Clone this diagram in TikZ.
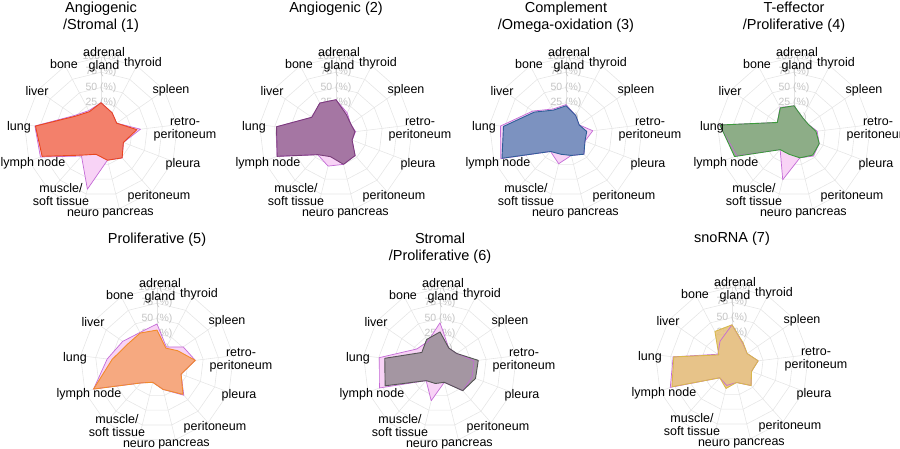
\documentclass[tikz,border=0pt]{standalone}
\usepackage{fontspec}
\setmainfont{Liberation Sans}
\usetikzlibrary{calc}

\definecolor{pinkfill}{HTML}{F8D3F6}
\definecolor{pinkline}{HTML}{C46BD6}
\definecolor{gridgray}{HTML}{E6E6E6}
\definecolor{ringgray}{HTML}{C4C4C4}
\definecolor{angfill}{HTML}{F3785C}
\definecolor{angline}{HTML}{E9461F}
\definecolor{purfill}{HTML}{9D6C9B}
\definecolor{purline}{HTML}{7A3E7A}
\definecolor{blufill}{HTML}{6F8CBB}
\definecolor{bluline}{HTML}{2E5E98}
\definecolor{grnfill}{HTML}{82A97B}
\definecolor{grnline}{HTML}{3C9A3C}
\definecolor{orafill}{HTML}{F6A574}
\definecolor{oraline}{HTML}{F28B2A}
\definecolor{gryfill}{HTML}{9B9099}
\definecolor{gryline}{HTML}{555555}
\definecolor{snofill}{HTML}{E6C27E}
\definecolor{snoline}{HTML}{D8B84C}

\tikzset{
  gridline/.style={draw=gridgray, line width=.6pt},
  ringlbl/.style={text=ringgray, font=\fontsize{10.5}{12}\selectfont, inner sep=0pt},
  axislbl/.style={align=center, font=\fontsize{12.5}{13}\selectfont, inner sep=0pt},
  titlelbl/.style={align=center, font=\fontsize{14.5}{16.5}\selectfont, inner sep=0pt}
}

% closed path through the 13 points of one series
\newcommand{\ringpath}[1]{(#10)--(#11)--(#12)--(#13)--(#14)--(#15)--(#16)--(#17)--(#18)--(#19)--(#110)--(#111)--(#112)--cycle}

% name, cx, cy, fill, line, pink values, main values, title
\newcommand{\radarchart}[8]{
  \coordinate (#1c) at (#2,#3);
  % grid
  \foreach \p in {0,25,50,75,100}
    \draw[gridline] ($(#1c)+(90:{16+0.61*\p})$)
      \foreach \k in {1,...,12}{ -- ($(#1c)+({90-\k*360/13}:{16+0.61*\p})$)} -- cycle;
  \foreach \k in {0,...,12}
    \draw[gridline] ($(#1c)+({90-\k*360/13}:16)$) -- ($(#1c)+({90-\k*360/13}:77)$);
  \foreach \p in {0,25,50,75,100}
    \node[ringlbl] (#1r\p) at ($(#1c)+(0,{16+0.61*\p})$) {\p\ (\%)};
  % series
  \foreach \v [count=\i from 0] in {#6}
    \coordinate (#1p\i) at ($(#1c)+({90-\i*360/13}:{16+0.61*\v})$);
  \foreach \v [count=\i from 0] in {#7}
    \coordinate (#1m\i) at ($(#1c)+({90-\i*360/13}:{16+0.61*\v})$);
  \fill[pinkfill] \ringpath{#1p};
  \fill[#4, fill opacity=.9] \ringpath{#1m};
  \draw[pinkline, line width=.7pt, line join=round] \ringpath{#1p};
  \draw[#5, line width=.9pt, line join=round] \ringpath{#1m};
  % axis labels
  \foreach \t/\dx/\dy [count=\i] in {{adrenal\\gland}/3/74, thyroid/42/71, spleen/70/44,
      {retro-\\peritoneum}/84/5, pleura/82/-30, peritoneum/58/-62, pancreas/27/-79,
      neuro/-18/-79, {muscle/\\soft tissue}/-40/-61, lymph node/-68/-29, lung/-82/7,
      liver/-64/43, bone/-37/70}
    \node[axislbl] (#1l\i) at ($(#1c)+(\dx,\dy)$) {\t};
  \node[titlelbl, anchor=north] (#1t) at ($(#1c)+(0,132)$) {#8};
}

\begin{document}
\begin{tikzpicture}[x=1pt, y=1pt]
\useasboundingbox (0,0) rectangle (900,448);

\radarchart{ang}{101}{314}{angfill}{angline}
  {25,13,5,39,13,26,18,67,22,80,83,27,17}
  {25,13,5,33,13,26,18,8,20,77,82,25,15}
  {Angiogenic\\/Stromal (1)}
\radarchart{agn}{336}{314}{purfill}{purline}
  {30,13,3,6,2,21,25,28,19,77,72,22,31}
  {30,10,3,5,2,21,25,12,19,77,72,22,31}
  {Angiogenic (2)}
\radarchart{cmp}{566}{314}{blufill}{bluline}
  {22,8,0,18,7,18,10,24,12,88,82,40,20}
  {20,8,0,8,7,18,10,8,12,86,77,37,18}
  {Complement\\/Omega-oxidation (3)}
\radarchart{tef}{794}{314}{grnfill}{grnline}
  {20,4,2,12,18,22,14,51,8,74,97,7,23}
  {20,4,2,10,18,20,14,8,8,78,96,7,22}
  {T-effector\\/Proliferative (4)}
\radarchart{pro}{157}{83}{orafill}{oraline}
  {41,7,26,37,16,40,15,3,13,85,56,42,34}
  {31,5,15,37,16,38,15,3,13,85,48,33,33}
  {Proliferative (5)}
\radarchart{str}{440}{83}{gryfill}{gryline}
  {43,5,7,30,30,30,3,34,8,80,74,20,17}
  {28,5,7,37,36,30,3,5,8,70,65,10,21}
  {Stromal\\/Proliferative (6)}
\radarchart{sno}{732}{84}{snofill}{snoline}
  {38,12,4,17,8,21,5,10,4,82,71,2,16}
  {38,13,4,17,8,21,5,15,4,79,70,0,34}
  {snoRNA (7)}
\end{tikzpicture}
\end{document}
